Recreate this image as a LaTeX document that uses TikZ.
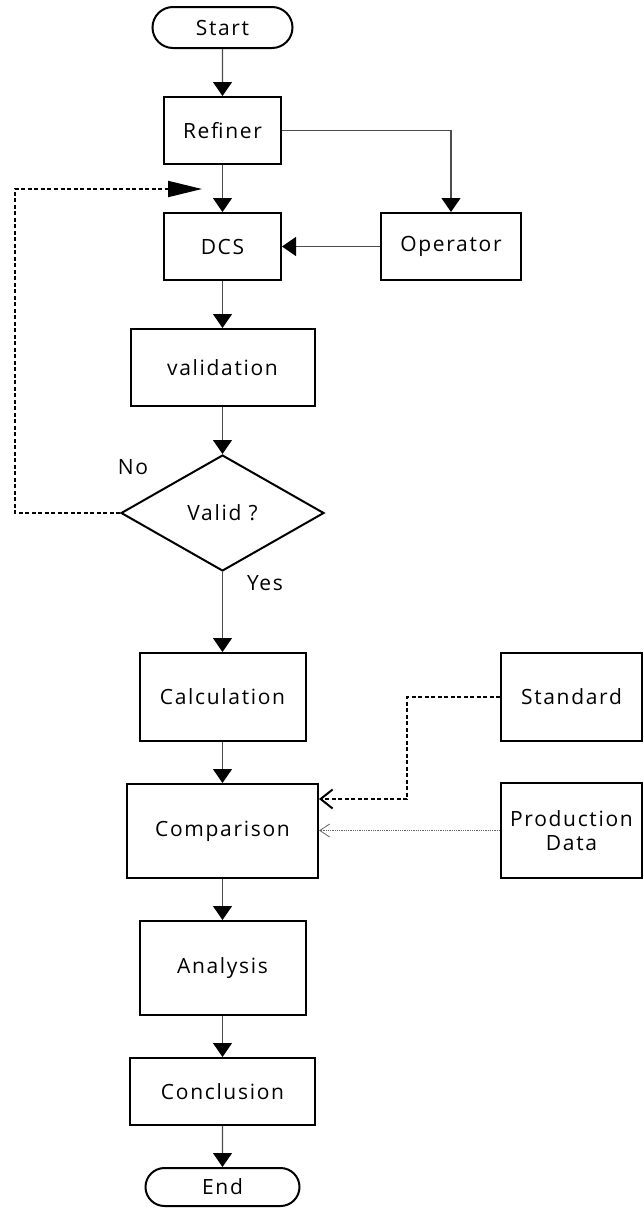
\documentclass[tikz,border=0pt]{standalone}
\usepackage{fontspec}
\setmainfont{Open Sans}[LetterSpace=8]
\usetikzlibrary{arrows.meta,shapes.geometric,shapes.misc,calc}
\begin{document}
\begin{tikzpicture}[x=1pt,y=-1pt,
  font=\fontsize{21}{24}\selectfont,
  box/.style={draw=black,line width=2pt,rectangle,inner sep=0pt,align=center},
  term/.style={draw=black,line width=2pt,rounded rectangle,inner sep=0pt},
  flow/.style={draw=black!70,line width=1.2pt,-{Triangle[width=19pt,length=14pt,color=black]}},
  loopback/.style={draw=black,line width=2pt,dash pattern=on 4pt off 2.5pt,-{Triangle[width=16pt,length=34pt,color=black]}},
  stdflow/.style={draw=black,line width=2pt,dash pattern=on 4pt off 2.5pt,-{Straight Barb[width=19pt,length=12pt,line width=2pt]}},
  prodflow/.style={draw=black!60,line width=0.8pt,dash pattern=on 1pt off 0.8pt,-{Straight Barb[width=13pt,length=10pt,line width=0.8pt]}},
  lbl/.style={inner sep=0pt}]
\useasboundingbox (0,0) rectangle (643,1210);
\node[term,minimum width=140pt,minimum height=41pt] (start) at (222.5,27.5) {Start};
\node[box,minimum width=117pt,minimum height=67pt] (refiner) at (222.5,130.5) {Refiner};
\node[box,minimum width=117pt,minimum height=67pt] (dcs) at (222.5,246.5) {DCS};
\node[box,minimum width=140pt,minimum height=67pt] (operator) at (451,246.5) {Operator};
\node[box,minimum width=184pt,minimum height=77pt] (validation) at (222.5,367.5) {validation};
\node[draw=black,line width=2pt,diamond,inner sep=0pt,minimum width=203pt,minimum height=116pt] (valid) at (222.5,513) {Valid ?};
\node[box,minimum width=166pt,minimum height=88pt] (calc) at (222.5,697) {Calculation};
\node[box,minimum width=191pt,minimum height=94pt] (comparison) at (222.5,831) {Comparison};
\node[box,minimum width=166pt,minimum height=94pt] (analysis) at (222.5,968) {Analysis};
\node[box,minimum width=185pt,minimum height=67pt] (conclusion) at (222.5,1091.5) {Conclusion};
\node[term,minimum width=154pt,minimum height=38pt] (end) at (222.5,1187) {End};
\node[box,minimum width=141pt,minimum height=88pt] (standard) at (571.5,697) {Standard};
\node[box,minimum width=141pt,minimum height=95pt] (proddata) at (571.5,830.5) {Production\\Data};
\node[lbl] (no) at (133,467) {No};
\node[lbl] (yes) at (265,583) {Yes};
\coordinate (looptip) at (202,189);
\draw[flow] (start) -- (refiner);
\draw[flow] (refiner) -- (dcs);
\draw[flow] (refiner.east) -| (operator.north);
\draw[flow] (operator) -- (dcs);
\draw[flow] (dcs) -- (validation);
\draw[flow] (validation) -- (valid);
\draw[loopback] (valid.west) -- (15,513) -- (15,189) -- (looptip);
\draw[flow] (valid) -- (calc);
\draw[flow] (calc) -- (comparison);
\draw[stdflow] (standard.west) -- (407,697) -- (407,799) -- ([yshift=32pt]comparison.east);
\draw[prodflow] (proddata.west) -- (comparison.east |- proddata.west);
\draw[flow] (comparison) -- (analysis);
\draw[flow] (analysis) -- (conclusion);
\draw[flow] (conclusion) -- (end);
\end{tikzpicture}
\end{document}
